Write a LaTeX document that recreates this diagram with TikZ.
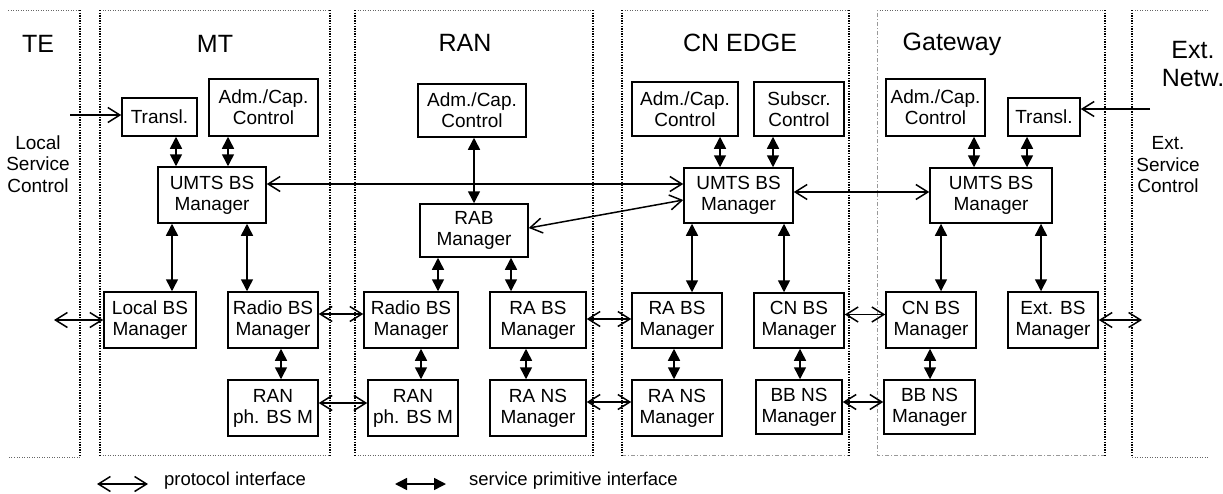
\documentclass[tikz,border=0pt]{standalone}
\usepackage{fontspec}
\setmainfont{Liberation Sans}
\usetikzlibrary{arrows.meta}
\usetikzlibrary{positioning}

\begin{document}
\begin{tikzpicture}[x=1pt,y=-1pt,line width=1.5pt,
	box/.style={draw,rectangle,align=center,inner sep=1pt,font=\fontsize{19}{21}\selectfont},
	title/.style={align=center,font=\fontsize{25}{28}\selectfont},
	side/.style={align=center,font=\fontsize{19}{21.5}\selectfont},
	legend/.style={anchor=west,font=\fontsize{18.5}{20}\selectfont},
	domv/.style={line width=1.3pt,dash pattern=on 1.3pt off 1.3pt},
	domh/.style={line width=0.8pt,dash pattern=on 1pt off 1.5pt,black!60},
	domlight/.style={line width=0.7pt,dash pattern=on 4pt off 2pt on 1pt off 2pt,black!40},
	proto/.style={{Straight Barb[length=12pt,width=15pt]}-{Straight Barb[length=12pt,width=15pt]}},
	protoin/.style={-{Straight Barb[length=12pt,width=15pt]}},
	prim/.style={{Triangle[length=12pt,width=12pt]}-{Triangle[length=12pt,width=12pt]}}]

	\useasboundingbox (0,0) rectangle (1223,493);

	% domains
	\draw[domh] (8,10) -- (80,10) (80,457) -- (8,457);
	\draw[domv] (80,10) -- (80,457);
	\draw[domh] (100,10) -- (330,10) (100,455) -- (330,455);
	\draw[domv] (100,10) -- (100,455) (330,10) -- (330,455);
	\draw[domh] (355,10) -- (593,10) (355,455) -- (593,455);
	\draw[domv] (355,10) -- (355,455) (593,10) -- (593,455);
	\draw[domh] (622,10) -- (849,10);
	\draw[domlight] (622,455) -- (849,455);
	\draw[domv] (622,10) -- (622,455) (849,10) -- (849,455);
	\draw[domh] (877,10) -- (1105,10);
	\draw[domlight] (1105,455) -- (877,455) -- (877,10);
	\draw[domv] (1105,10) -- (1105,455);
	\draw[domh] (1208,10) -- (1132,10) (1132,457) -- (1208,457);
	\draw[domv] (1132,10) -- (1132,457);

	\node[title] (te) at (38,44) {TE};
	\node[title] (mt) at (215,44) {MT};
	\node[title] (ran) at (465,43) {RAN};
	\node[title] (cn) at (740,43) {CN EDGE};
	\node[title] (gw) at (952,44) {Gateway};
	\node[title] (ext) at (1193,64) {Ext.\\Netw.};

	\node[side] (lsc) at (38,164) {Local\\Service\\Control};
	\node[side] (esc) at (1168,165) {Ext.\\Service\\Control};

	% MT
	\node[box,minimum width=75,minimum height=38] (trMT) at (159.5,117) {Transl.};
	\node[box,minimum width=109,minimum height=57] (acMT) at (263.5,107.5) {Adm./Cap.\\Control};
	\node[box,minimum width=108,minimum height=56] (umMT) at (212,195) {UMTS BS\\Manager};
	\node[box,minimum width=92,minimum height=56] (lbMT) at (150,320) {Local BS\\Manager};
	\node[box,minimum width=90,minimum height=56] (rbMT) at (273,320) {Radio BS\\Manager};
	\node[box,minimum width=90,minimum height=56] (phMT) at (273,408) {RAN\\ph. BS M};

	% RAN
	\node[box,minimum width=108,minimum height=53] (acRAN) at (472,110.5) {Adm./Cap.\\Control};
	\node[box,minimum width=108,minimum height=53] (rab) at (474,230.5) {RAB\\Manager};
	\node[box,minimum width=94,minimum height=56] (rbRAN) at (411,320) {Radio BS\\Manager};
	\node[box,minimum width=96,minimum height=56] (raRAN) at (538,320) {RA BS\\Manager};
	\node[box,minimum width=90,minimum height=56] (phRAN) at (413,408) {RAN\\ph. BS M};
	\node[box,minimum width=96,minimum height=56] (rnRAN) at (538,408) {RA NS\\Manager};

	% CN EDGE
	\node[box,minimum width=106,minimum height=54] (acCN) at (685,109) {Adm./Cap.\\Control};
	\node[box,minimum width=90,minimum height=54] (scCN) at (799,109) {Subscr.\\Control};
	\node[box,minimum width=109,minimum height=55] (umCN) at (738.5,195.5) {UMTS BS\\Manager};
	\node[box,minimum width=90,minimum height=55] (raCN) at (677,320.5) {RA BS\\Manager};
	\node[box,minimum width=90,minimum height=55] (cbCN) at (799,320.5) {CN BS\\Manager};
	\node[box,minimum width=90,minimum height=56] (rnCN) at (677,408) {RA NS\\Manager};
	\node[box,minimum width=86,minimum height=54] (bbCN) at (799,407) {BB NS\\Manager};

	% Gateway
	\node[box,minimum width=99,minimum height=57] (acGW) at (935.5,107.5) {Adm./Cap.\\Control};
	\node[box,minimum width=72,minimum height=38] (trGW) at (1044,117) {Transl.};
	\node[box,minimum width=122,minimum height=55] (umGW) at (991,195.5) {UMTS BS\\Manager};
	\node[box,minimum width=90,minimum height=56] (cbGW) at (931,320) {CN BS\\Manager};
	\node[box,minimum width=91,minimum height=54] (bbGW) at (929.5,407) {BB NS\\Manager};
	\node[box,minimum width=90,minimum height=56] (ebGW) at (1053,320) {Ext. BS\\Manager};

	\coordinate (lscin) at (70,115);
	\coordinate (lbout) at (54,320);
	\coordinate (escin) at (1150,109);
	\coordinate (ebout) at (1142,320);

	% service primitive interfaces
	\path[prim]
	([xshift=16.5pt]trMT.south) edge ([xshift=16.5pt]trMT.south |- umMT.north)
	([xshift=-35.5pt]acMT.south) edge ([xshift=-35.5pt]acMT.south |- umMT.north)
	([xshift=-40pt]umMT.south) edge ([xshift=-40pt]umMT.south |- lbMT.north)
	([xshift=35pt]umMT.south) edge ([xshift=35pt]umMT.south |- rbMT.north)
	([xshift=8pt]rbMT.south) edge ([xshift=8pt]rbMT.south |- phMT.north)
	(rab.north) edge (rab.north |- acRAN.south)
	([xshift=-36pt]rab.south) edge ([xshift=-36pt]rab.south |- rbRAN.north)
	([xshift=37pt]rab.south) edge ([xshift=37pt]rab.south |- raRAN.north)
	([xshift=10pt]rbRAN.south) edge ([xshift=10pt]rbRAN.south |- phRAN.north)
	([xshift=-12pt]raRAN.south) edge ([xshift=-12pt]raRAN.south |- rnRAN.north)
	([xshift=35pt]acCN.south) edge ([xshift=35pt]acCN.south |- umCN.north)
	([xshift=-26pt]scCN.south) edge ([xshift=-26pt]scCN.south |- umCN.north)
	([xshift=-46.5pt]umCN.south) edge ([xshift=-46.5pt]umCN.south |- raCN.north)
	([xshift=45.5pt]umCN.south) edge ([xshift=45.5pt]umCN.south |- cbCN.north)
	([xshift=-3pt]raCN.south) edge ([xshift=-3pt]raCN.south |- rnCN.north)
	([xshift=1pt]cbCN.south) edge ([xshift=1pt]cbCN.south |- bbCN.north)
	([xshift=38.5pt]acGW.south) edge ([xshift=38.5pt]acGW.south |- umGW.north)
	([xshift=-17pt]trGW.south) edge ([xshift=-17pt]trGW.south |- umGW.north)
	([xshift=-50pt]umGW.south) edge ([xshift=-50pt]umGW.south |- cbGW.north)
	([xshift=50pt]umGW.south) edge ([xshift=50pt]umGW.south |- ebGW.north)
	([xshift=-1pt]cbGW.south) edge ([xshift=-1pt]cbGW.south |- bbGW.north);

	% protocol interfaces
	\path[proto]
	(lbout) edge (lbMT.west)
	([yshift=11pt]umMT.east) edge ([yshift=11pt]umMT.east -| umCN.west)
	([yshift=2.5pt]rab.east) edge ([yshift=-4.5pt]umCN.west)
	([yshift=3.5pt]umCN.east) edge ([yshift=3.5pt]umCN.east -| umGW.west)
	([yshift=6pt]rbMT.east) edge ([yshift=6pt]rbMT.east -| rbRAN.west)
	([yshift=5pt]phMT.east) edge ([yshift=5pt]phMT.east -| phRAN.west)
	([yshift=1pt]raRAN.east) edge ([yshift=1pt]raRAN.east -| raCN.west)
	([yshift=6pt]rnRAN.east) edge ([yshift=6pt]rnRAN.east -| rnCN.west)
	([yshift=6pt]cbCN.east) edge ([yshift=6pt]cbCN.east -| cbGW.west)
	([yshift=5pt]bbCN.east) edge ([yshift=5pt]bbCN.east -| bbGW.west)
	(ebGW.east) edge (ebout);
	\path[protoin]
	(lscin) edge (lscin -| trMT.west)
	(escin) edge (escin -| trGW.east);

	% legend
	\coordinate (lp1) at (97,484);
	\coordinate (lp2) at (148,484);
	\coordinate (ls1) at (395,484);
	\coordinate (ls2) at (446,484);
	\draw[proto] (lp1) -- (lp2);
	\draw[prim] (ls1) -- (ls2);
	\node[legend] (lptext) at (160,481) {protocol interface};
	\node[legend] (lstext) at (465,481) {service primitive interface};
\end{tikzpicture}
\end{document}
